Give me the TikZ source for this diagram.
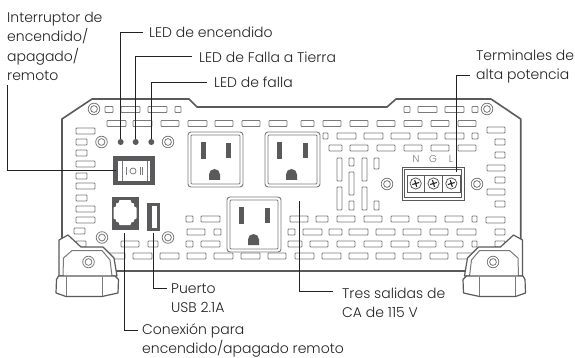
\documentclass[tikz,border=0pt]{standalone}
\usepackage{fontspec}
\setmainfont{Poppins Light}
\definecolor{ink}{HTML}{222222}
\definecolor{body}{HTML}{5A5A5C}
\definecolor{slotc}{HTML}{7A7A7C}
\newcommand\slotrow[2]{\foreach \a/\b in {#2}{\draw[slotbox] (\a,#1-3) rectangle (\b,#1+3);}}
\newcommand\vslot[3]{\draw[slotbox] (#1,#2) rectangle (#1+5,#3);}
\newcommand\screwmark[2]{\draw[screwline,fill=white] (#1,#2) circle (5.8pt); \draw[screwline] (#1,#2) circle (3.4pt);}
\newcommand\termscrew[2]{\draw[body,line width=.8pt,fill=white] (#1,#2) circle (5.6pt);
  \draw[ink,line width=1.1pt] (#1-3.4,#2+1) -- (#1+3.4,#2-1) (#1-1,#2-3.4) -- (#1+1,#2+3.4);}
\newcommand\outlet[7]{% x1 x2 y1 y2 blade-left x, blade-right x, ground centre x
  \draw[slotbox,line width=.9pt,rounded corners=3pt] (#1,#3) rectangle (#2,#4);
  \draw[slotbox,line width=.9pt,rounded corners=1pt] (#1+3,#3+3) rectangle (#2-3,#4-3);
  \fill[body] (#5,#3+10) rectangle (#5+5,#3+27);
  \fill[body] (#6,#3+11) rectangle (#6+5,#3+26);
  \fill[body] (#7-5.5,#3+48) -- (#7-5.5,#3+42.5) arc[start angle=180,end angle=0,radius=5.5pt] -- (#7+5.5,#3+48) -- cycle;}
\newcommand\footshape{%
  \draw[body,line width=1.2pt,fill=white,line join=round] (59,276) -- (59,240) -- (68,235) -- (81,247) -- (103,247) -- (114,258) -- (117,276) -- cycle;
  \draw[slotc,line width=1pt,fill=white,line join=round] (63,276) -- (63.5,258) -- (72,250.5) -- (102,250.5) -- (110,260) -- (112,276);
  \draw[body,line width=1.2pt,fill=white,line join=round] (58.5,276) -- (115,276) -- (118.5,279.5) -- (118,293) -- (102,296.5) -- (66,296.5) -- (56,293) -- (56.5,279.5) -- cycle;
  \draw[slotc,line width=.9pt] (66.5,277) -- (66.5,296) (102,277) -- (102,296);
  \screwmark{88.5}{262}}
\tikzset{
  slotbox/.style={draw=slotc,line width=.8pt,fill=white,rounded corners=.8pt},
  screwline/.style={draw=slotc,line width=.8pt},
  lbl/.style={text=ink,inner sep=0pt,anchor=base west,font=\fontsize{14}{19.3}\selectfont},
  mlbl/.style={text=ink,inner sep=0pt,anchor=north west,align=left,font=\fontsize{14}{19.3}\selectfont},
  leader/.style={draw=ink,line width=1pt},
  term/.style={text=slotc,inner sep=0pt,font=\fontsize{10}{12}\selectfont}
}
\begin{document}
\begin{tikzpicture}[x=1pt,y=-1pt]
\useasboundingbox (0,0) rectangle (575,358);
% housing
\draw[body,line width=1.6pt,line join=round] (62,271) -- (62,119) -- (92,99) -- (189,99) -- (197,107) -- (387,107) -- (396,99) -- (491,99) -- (520.7,119) -- (520.7,271) -- cycle;
% vent rows
\slotrow{109.5}{105/113,121/140,148/167,175/181,404/410,418/437,445/464,472/478}
\slotrow{123.5}{107/126,133/152,161/179,188/207,215/233,242/260,269/287,301/314,323/341,350/368,377/395,404/422,431/449,458/476}
\slotrow{136}{323/328,337/356,364/383,391/410,418/437,445/464,472/478}
\slotrow{148}{329/342,350/368,377/395,404/422,431/449,458/476}
\slotrow{131}{76/95}\slotrow{142}{76/87}\slotrow{153}{76/87}\slotrow{164}{76/95}\slotrow{176}{76/87}\slotrow{186}{76/95}\slotrow{198}{76/87}\slotrow{209}{76/95}\slotrow{220}{76/95}\slotrow{231}{74/85}\slotrow{244}{76/86}
\slotrow{130}{487/505}\slotrow{142}{495/505}\slotrow{155}{495/505}\slotrow{168}{487/505}\slotrow{180}{495/505}\slotrow{192}{487/505}\slotrow{204}{495/505}\slotrow{220}{486/505}\slotrow{232}{495/505}\slotrow{244}{495/505}
\slotrow{219}{186/193,201/220,290/308,316/328,337/355,364/382,391/409,418/436,445/463,472/477}
\slotrow{232}{187/205,214/221,288/295,303/322,329/342,349/368,376/395,403/421,430/448,457/476}
\slotrow{244}{121/139,148/158,186/193,201/220,288/302,310/328,337/355,364/382,391/409,418/436,445/463,472/477}
\slotrow{256}{108/125,133/152,160/179,187/206,214/233,241/260,268/286,295/314,322/341,349/368,376/395,403/421,430/448,457/476}
\vslot{337}{158}{181}\vslot{337}{187}{210}
\vslot{349}{158}{166}\vslot{349}{172}{195}\vslot{349}{201}{210}
\vslot{362}{158}{181}\vslot{362}{187}{210}
\vslot{374}{158}{169}\vslot{374}{201}{210}
% screws
\screwmark{94}{109}\screwmark{487}{109}\screwmark{101.5}{142}\screwmark{168}{142}\screwmark{102}{237.5}\screwmark{168}{237.5}\screwmark{387}{184}\screwmark{477}{184}
% LEDs
\node[circle,fill=body,minimum size=6pt,inner sep=0pt] (ledA) at (120.7,142) {};
\node[circle,fill=body,minimum size=6pt,inner sep=0pt] (ledB) at (135.7,142) {};
\node[circle,fill=body,minimum size=6pt,inner sep=0pt] (ledC) at (151.3,142) {};
% switch
\fill[body] (113,156) rectangle (155,185);
\fill[white] (118,161) rectangle (150,181);
\draw[slotc,line width=.7pt] (122,161) -- (122,181) (147,161) -- (147,181);
\draw[slotc,line width=.8pt] (126,167) -- (126,175) (140,167) -- (140,175) (142.5,167) -- (142.5,175);
\draw[slotc,line width=.8pt] (133,171) circle (3pt);
\coordinate (switchEdge) at (116,171);
% remote port
\fill[body] (112,197) rectangle (139,230);
\fill[white,rounded corners=.8pt] (119,200) -- (131,200) -- (131,203) -- (134,203) -- (134,207) -- (136.5,207) -- (136.5,219) -- (134,219) -- (134,222) -- (131,222) -- (131,225) -- (119,225) -- (119,222) -- (116,222) -- (116,219) -- (113.5,219) -- (113.5,207) -- (116,207) -- (116,203) -- (119,203) -- cycle;
\coordinate (remoteEdge) at (124.5,233);
% usb
\fill[body] (147,203) rectangle (160,231);
\fill[white] (152,206) rectangle (157,228);
\coordinate (usbEdge) at (153.5,233);
% outlets
\outlet{188}{243}{132}{187}{201}{226}{214.5}
\outlet{265}{320}{132}{187}{277}{303}{291.5}
\outlet{227}{281}{197}{252}{239}{265}{253.5}
\coordinate (outletEdge) at (299,201);
% terminal block
\draw[body,line width=.9pt,fill=white] (402,167) rectangle (464,200);
\draw[body,line width=.9pt] (404.5,169.5) rectangle (461.5,197.5);
\draw[body,line width=.8pt] (407,175) rectangle (424.5,192) (424.5,175) rectangle (442.5,192) (442.5,175) rectangle (460,192);
\termscrew{415.7}{183.5}\termscrew{433.5}{183.5}\termscrew{451.3}{183.5}
\node[term] (tN) at (416,159.5) {N};
\node[term] (tG) at (433,159.5) {G};
\node[term] (tL) at (451,159.5) {L};
\coordinate (termEdge) at (456.5,172);
% feet
\footshape
\begin{scope}[xshift=581.5pt,xscale=-1]\footshape\end{scope}
% labels
\node[mlbl] (swT) at (7,12) {Interruptor de\\encendido/\\apagado/\\remoto};
\node[lbl] (ledAT) at (149,38) {LED de encendido};
\node[lbl] (ledBT) at (199,62.5) {LED de Falla a Tierra};
\node[lbl] (ledCT) at (214,87.5) {LED de falla};
\node[mlbl] (termT) at (476,49.5) {Terminales de\\alta potencia};
\node[mlbl] (usbT) at (171,283.5) {Puerto\\USB 2.1A};
\node[mlbl] (remT) at (142,323.5) {Conexión para\\encendido/apagado remoto};
\node[mlbl] (outT) at (342,287.5) {Tres salidas de\\CA de 115 V};
% leader start points
\coordinate (swStart) at (7.5,85);
\coordinate (ledAStart) at (143,33);
\coordinate (ledBStart) at (192,57);
\coordinate (ledCStart) at (207,83);
\coordinate (termStart) at (470,76);
\coordinate (usbStart) at (166.5,288);
\coordinate (remStart) at (137.5,330);
\coordinate (outStart) at (332.5,291);
% leaders
\draw[leader] (swStart) |- (switchEdge);
\draw[leader] (ledAStart) -| (ledA.north);
\draw[leader] (ledBStart) -| (ledB.north);
\draw[leader] (ledCStart) -| (ledC.north);
\draw[leader] (termStart) -| (termEdge);
\draw[leader] (usbStart) -| (usbEdge);
\draw[leader] (remStart) -| (remoteEdge);
\draw[leader] (outStart) -| (outletEdge);
\end{tikzpicture}
\end{document}
